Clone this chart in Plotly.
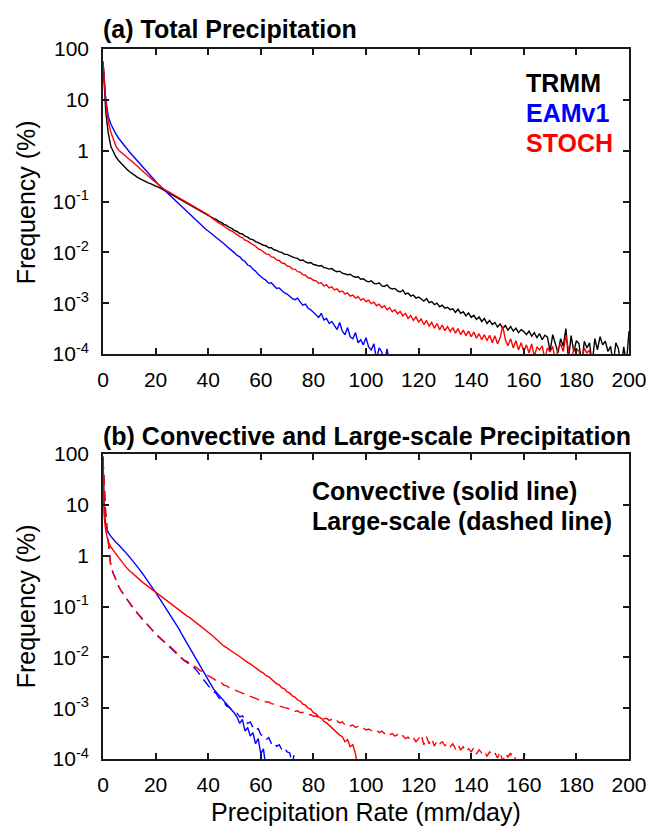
import plotly.graph_objects as go

# ---------------- data (log10 of frequency in %) ----------------
# shared precipitation-rate bins (mm/day)
rate = [0, 0.5, 1, 1.5] + list(range(2, 201))

# Panel (a): total precipitation
trmm_log = [1.75, 1.20, 0.82, 0.55, 0.35,
            0.08, -0.04, -0.13, -0.20, -0.26, -0.31, -0.36, -0.41,
            -0.45, -0.49, -0.52, -0.55, -0.58, -0.61, -0.63, -0.65, -0.67, -0.69,
            -0.72, -0.74, -0.77, -0.80, -0.82, -0.85, -0.88, -0.91, -0.94, -0.97,
            -1.00, -1.03, -1.06, -1.09, -1.12, -1.15, -1.18, -1.21, -1.24, -1.27,
            -1.30, -1.33, -1.35, -1.39, -1.41, -1.45, -1.47, -1.51, -1.53, -1.57,
            -1.59, -1.63, -1.64, -1.68, -1.70, -1.74, -1.75, -1.79, -1.81, -1.84,
            -1.86, -1.87, -1.91, -1.91, -1.95, -1.96, -1.99, -2.00, -2.04, -2.04,
            -2.07, -2.09, -2.11, -2.12, -2.16, -2.15, -2.19, -2.21, -2.20, -2.24,
            -2.25, -2.27, -2.26, -2.30, -2.31, -2.33, -2.32, -2.36, -2.38, -2.37,
            -2.41, -2.42, -2.44, -2.43, -2.47, -2.49, -2.48, -2.53, -2.52, -2.56,
            -2.58, -2.56, -2.61, -2.62, -2.60, -2.66, -2.67, -2.64, -2.70, -2.72,
            -2.71, -2.76, -2.78, -2.74, -2.82, -2.80, -2.86, -2.84, -2.90, -2.88,
            -2.93, -2.96, -2.91, -2.99, -2.97, -3.03, -3.00, -3.07, -3.04, -3.10,
            -3.08, -3.13, -3.11, -3.18, -3.12, -3.20, -3.17, -3.25, -3.19, -3.28,
            -3.24, -3.32, -3.27, -3.36, -3.30, -3.40, -3.34, -3.42, -3.38, -3.47,
            -3.41, -3.50, -3.44, -3.53, -3.46, -3.55, -3.49, -3.58, -3.52, -3.56,
            -3.62, -3.55, -3.65, -3.58, -3.68, -3.60, -3.72, -3.63, -3.67, -3.95,
            -3.62, -3.78, -3.98, -3.70, -3.85, -3.50, -4.10, -3.64, -3.95, -3.74,
            -3.80, -4.20, -3.75, -3.88, -3.78, -4.20, -3.70, -3.92, -3.66, -3.82,
            -3.75, -3.95, -3.85, -4.20, -3.78, -3.90, -4.30, -3.86, -4.20, -3.55]

eamv1_log = [1.75, 1.35, 1.05, 0.85, 0.68,
             0.52, 0.41, 0.32, 0.24, 0.17, 0.10, 0.04, -0.02,
             -0.08, -0.14, -0.20, -0.26, -0.32, -0.38, -0.44, -0.49, -0.55, -0.60,
             -0.66, -0.71, -0.76, -0.81, -0.86, -0.91, -0.96, -1.01, -1.06, -1.11,
             -1.16, -1.21, -1.25, -1.30, -1.35, -1.40, -1.45, -1.49, -1.54, -1.58,
             -1.62, -1.66, -1.71, -1.74, -1.79, -1.83, -1.88, -1.92, -1.96, -2.01,
             -2.06, -2.09, -2.15, -2.18, -2.25, -2.27, -2.33, -2.37, -2.43, -2.48,
             -2.52, -2.55, -2.61, -2.60, -2.66, -2.71, -2.70, -2.76, -2.80, -2.82,
             -2.86, -2.91, -2.93, -2.90, -2.98, -3.04, -3.02, -3.10, -3.13, -3.18,
             -3.22, -3.28, -3.20, -3.33, -3.30, -3.40, -3.36, -3.45, -3.52, -3.38,
             -3.55, -3.62, -3.48, -3.66, -3.70, -3.58, -3.78, -3.72, -3.82, -3.68,
             -3.86, -3.92, -3.80, -4.10, -3.88, -3.96, -4.20, -3.90, -4.20, -4.30]

stoch_log = [1.75, 1.30, 1.00, 0.75, 0.57,
             0.36, 0.20, 0.08, 0.01, -0.04, -0.09, -0.13, -0.17,
             -0.21, -0.25, -0.30, -0.35, -0.40, -0.44, -0.49, -0.53, -0.58, -0.62,
             -0.67, -0.71, -0.75, -0.78, -0.81, -0.84, -0.87, -0.89, -0.92, -0.95,
             -0.98, -1.01, -1.04, -1.07, -1.10, -1.13, -1.16, -1.19, -1.23, -1.26,
             -1.31, -1.35, -1.38, -1.42, -1.45, -1.49, -1.52, -1.56, -1.58, -1.62,
             -1.65, -1.69, -1.71, -1.76, -1.78, -1.82, -1.85, -1.88, -1.93, -1.95,
             -1.99, -2.03, -2.04, -2.09, -2.10, -2.15, -2.16, -2.21, -2.22, -2.27,
             -2.28, -2.33, -2.33, -2.38, -2.39, -2.44, -2.45, -2.50, -2.51, -2.55,
             -2.56, -2.61, -2.60, -2.66, -2.64, -2.70, -2.68, -2.74, -2.72, -2.78,
             -2.76, -2.82, -2.80, -2.86, -2.84, -2.90, -2.87, -2.94, -2.91, -2.97,
             -2.94, -3.01, -2.98, -3.05, -3.02, -3.09, -3.05, -3.13, -3.09, -3.17,
             -3.13, -3.21, -3.16, -3.25, -3.20, -3.30, -3.24, -3.34, -3.27, -3.37,
             -3.31, -3.42, -3.34, -3.45, -3.38, -3.49, -3.40, -3.52, -3.43, -3.54,
             -3.46, -3.56, -3.48, -3.59, -3.50, -3.62, -3.53, -3.64, -3.55, -3.66,
             -3.57, -3.69, -3.60, -3.72, -3.62, -3.74, -3.63, -3.78, -3.64, -3.80,
             -3.68, -3.45, -3.72, -3.84, -3.70, -3.88, -3.74, -3.92, -3.78, -3.95,
             -3.82, -3.98, -3.80, -4.05, -3.86, -3.92, -3.84, -4.10, -3.88, -3.96,
             -3.85, -4.15, -3.90, -3.80, -3.95, -3.64, -3.92, -4.20, -3.88, -3.90,
             -3.95, -4.20, -3.88, -3.98, -3.92, -4.30]

# Panel (b): convective (solid) and large-scale (dashed)
eamv1_conv_log = [1.95, 0.85, 0.62, 0.52, 0.45,
                  0.38, 0.31, 0.26, 0.21, 0.16, 0.10, 0.04, -0.02,
                  -0.08, -0.14, -0.21, -0.28, -0.35, -0.42, -0.49, -0.57, -0.65, -0.72,
                  -0.80, -0.88, -0.96, -1.04, -1.12, -1.21, -1.29, -1.37, -1.45, -1.55,
                  -1.64, -1.73, -1.82, -1.92, -2.01, -2.10, -2.19, -2.28, -2.37, -2.46,
                  -2.55, -2.62, -2.68, -2.74, -2.79, -2.86, -2.92, -2.97, -3.05, -3.10,
                  -3.18, -3.30, -3.22, -3.45, -3.38, -3.55, -3.48, -3.70, -3.60, -3.90,
                  -3.80, -4.20]

stoch_conv_log = [1.95, 0.75, 0.50, 0.36, 0.27,
                  0.17, 0.09, 0.03, -0.04, -0.11, -0.18, -0.24, -0.29,
                  -0.34, -0.39, -0.44, -0.48, -0.52, -0.56, -0.60, -0.64, -0.68, -0.72,
                  -0.76, -0.80, -0.84, -0.88, -0.92, -0.96, -1.00, -1.04, -1.07, -1.11,
                  -1.15, -1.19, -1.22, -1.26, -1.30, -1.34, -1.38, -1.42, -1.46, -1.50,
                  -1.54, -1.59, -1.64, -1.69, -1.74, -1.78, -1.81, -1.85, -1.88, -1.92,
                  -1.95, -1.99, -2.02, -2.06, -2.10, -2.13, -2.17, -2.20, -2.25, -2.28,
                  -2.31, -2.36, -2.38, -2.43, -2.46, -2.52, -2.54, -2.60, -2.62, -2.68,
                  -2.70, -2.76, -2.78, -2.84, -2.86, -2.92, -2.94, -3.00, -3.02, -3.09,
                  -3.11, -3.17, -3.20, -3.26, -3.29, -3.34, -3.38, -3.42, -3.47, -3.53,
                  -3.56, -3.66, -3.62, -3.76, -3.72, -3.90, -4.20]

eamv1_ls_log = [1.90, 1.20, 0.85, 0.55, 0.25,
                -0.22, -0.36, -0.50, -0.61, -0.70, -0.78, -0.85, -0.93,
                -1.00, -1.07, -1.13, -1.20, -1.26, -1.32, -1.37, -1.43, -1.48, -1.54,
                -1.59, -1.64, -1.69, -1.73, -1.78, -1.83, -1.88, -1.92, -1.97, -2.02,
                -2.07, -2.10, -2.15, -2.17, -2.22, -2.28, -2.36, -2.43, -2.49, -2.56,
                -2.62, -2.67, -2.71, -2.79, -2.84, -2.88, -2.96, -2.98, -3.04, -3.08,
                -3.10, -3.17, -3.15, -3.24, -3.30, -3.27, -3.38, -3.44, -3.40, -3.52,
                -3.55, -3.62, -3.58, -3.69, -3.66, -3.75, -3.72, -3.82, -3.78, -3.86,
                -3.88, -4.10, -3.82]

stoch_ls_log = [1.90, 1.20, 0.85, 0.55, 0.25,
                -0.22, -0.36, -0.50, -0.61, -0.70, -0.78, -0.85, -0.92,
                -0.99, -1.06, -1.13, -1.19, -1.26, -1.31, -1.37, -1.42, -1.48, -1.53,
                -1.58, -1.63, -1.68, -1.72, -1.76, -1.81, -1.86, -1.90, -1.95, -2.00,
                -2.06, -2.08, -2.12, -2.14, -2.18, -2.22, -2.26, -2.28, -2.33, -2.36,
                -2.39, -2.42, -2.45, -2.49, -2.50, -2.55, -2.56, -2.60, -2.62, -2.64,
                -2.66, -2.68, -2.71, -2.72, -2.75, -2.77, -2.78, -2.81, -2.82, -2.85,
                -2.85, -2.88, -2.88, -2.91, -2.92, -2.94, -2.95, -2.97, -2.99, -3.00,
                -3.02, -3.02, -3.06, -3.05, -3.09, -3.08, -3.12, -3.13, -3.13, -3.16,
                -3.15, -3.19, -3.17, -3.21, -3.20, -3.24, -3.22, -3.27, -3.25, -3.29,
                -3.27, -3.33, -3.31, -3.35, -3.33, -3.38, -3.36, -3.40, -3.39, -3.43,
                -3.41, -3.44, -3.46, -3.43, -3.48, -3.45, -3.50, -3.47, -3.52, -3.50,
                -3.55, -3.52, -3.58, -3.54, -3.60, -3.57, -3.63, -3.58, -3.66, -3.60,
                -3.52, -3.72, -3.56, -3.70, -3.60, -3.75, -3.64, -3.70, -3.66, -3.74,
                -3.69, -3.76, -3.70, -3.80, -3.72, -3.82, -3.76, -3.85, -3.80, -3.86,
                -3.78, -3.90, -3.82, -3.88, -3.84, -3.95, -3.86, -3.92, -3.88, -3.98,
                -3.86, -4.05, -3.90, -3.96, -3.88, -4.10, -3.93, -4.05, -4.20, -3.96, -3.85]

x_ticks = [0, 20, 40, 60, 80, 100, 120, 140, 160, 180, 200]
y_ticks = [100, 10, 1, 0.1, 0.01, 0.001, 0.0001]
y_ticktext = ["100", "10", "1", "10<sup>-1</sup>", "10<sup>-2</sup>",
              "10<sup>-3</sup>", "10<sup>-4</sup>"]

BLUE = "#0000FF"
RED = "#FF0000"
BLACK = "#000000"
FONT = "Liberation Sans"


def freq(logs):
    return [10 ** v for v in logs]


fig = go.Figure()


def add(logs, color, xa, ya, dash="solid"):
    fig.add_trace(go.Scatter(
        x=rate[:len(logs)], y=freq(logs), mode="lines",
        line=dict(color=color, width=1.4, dash=dash),
        xaxis=xa, yaxis=ya, showlegend=False, hoverinfo="skip"))


add(trmm_log, BLACK, "x", "y")
add(eamv1_log, BLUE, "x", "y")
add(stoch_log, RED, "x", "y")

add(eamv1_conv_log, BLUE, "x2", "y2")
add(eamv1_ls_log, BLUE, "x2", "y2", dash="10px,6px")
add(stoch_conv_log, RED, "x2", "y2")
add(stoch_ls_log, RED, "x2", "y2", dash="10px,6px")

axis_common = dict(showline=True, linecolor="#1a1a1a", linewidth=1.6, mirror="ticks",
                   ticks="inside", ticklen=6, tickwidth=1.5, tickcolor="#1a1a1a",
                   showgrid=False, zeroline=False,
                   tickfont=dict(family=FONT, size=21, color="black"))

xa = dict(axis_common, range=[0, 200], tickvals=x_ticks, ticktext=[str(v) for v in x_ticks],
          ticklabelstandoff=6)
ya = dict(axis_common, type="log", range=[-4, 2], tickvals=y_ticks, ticktext=y_ticktext,
          ticklabelstandoff=8)

# the page body adds an 8px offset, so the figure is drawn 8px smaller
OFF = 8
W, H = 659 - OFF, 829 - OFF
left, right, top, bot = 103 - OFF, 21, 49 - OFF, 70
ph = H - top - bot
pw = W - left - right


def py(px):  # screen px (window coords) -> paper y
    return (H + OFF - bot - px) / ph


def pxx(px):  # screen px -> paper x
    return (px - 103) / pw


fig.update_layout(
    width=W, height=H,
    margin=dict(l=left, r=right, t=top, b=bot),
    paper_bgcolor="white", plot_bgcolor="white",
    font=dict(family=FONT, color="black"),
    xaxis=dict(xa, domain=[0, 1], anchor="y"),
    yaxis=dict(ya, domain=[py(354), 1], anchor="x"),
    xaxis2=dict(xa, domain=[0, 1], anchor="y2"),
    yaxis2=dict(ya, domain=[0, py(454)], anchor="x2"),
)

ann = []


def text(s, x_px, y_px, size=25, bold=True, color="black", xanchor="left", angle=0):
    ann.append(dict(text=("<b>%s</b>" % s) if bold else s, xref="paper", yref="paper",
                    x=pxx(x_px), y=py(y_px), xanchor=xanchor, yanchor="middle",
                    showarrow=False, textangle=angle,
                    font=dict(family=FONT, size=size, color=color)))


text("(a) Total Precipitation", 101, 29)
text("TRMM", 531, 83, color=BLACK)
text("EAMv1", 531, 113, color=BLUE)
text("STOCH", 531, 143, color=RED)

text("(b) Convective and Large-scale Precipitation", 101, 436)
text("Convective (solid line)", 314, 491)
text("Large-scale (dashed line)", 314, 521)

text("Frequency (%)", 25, 202, bold=False, xanchor="center", angle=-90)
text("Frequency (%)", 25, 606, bold=False, xanchor="center", angle=-90)
text("Precipitation Rate (mm/day)", 371, 812, bold=False, xanchor="center")

fig.update_layout(annotations=ann)

fig.write_html("out.html")
